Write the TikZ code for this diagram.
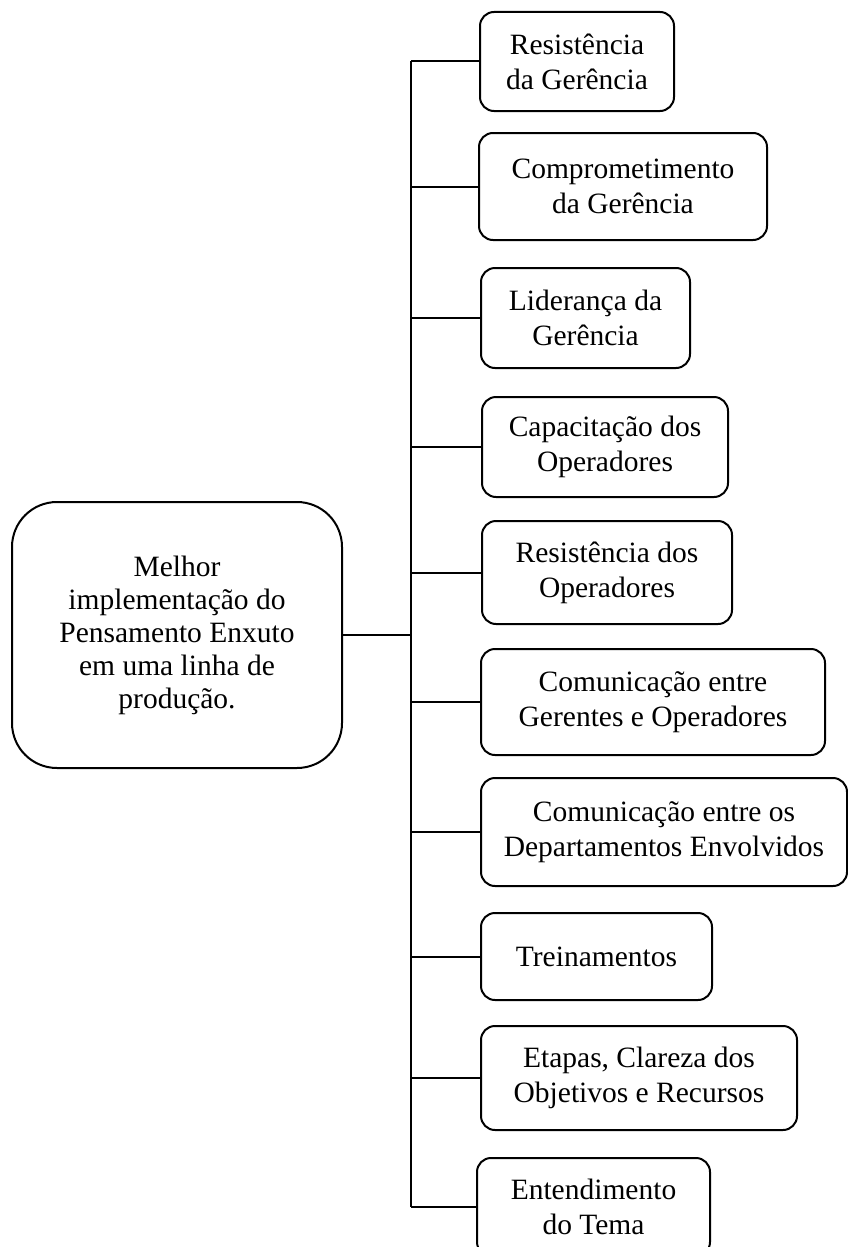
\documentclass[tikz,border=0pt]{standalone}
\usepackage{fontspec}
\setmainfont{Liberation Serif}
\begin{document}
\begin{tikzpicture}[x=1pt,y=-1pt,
  line width=2pt,
  rbox/.style={draw=black, rounded corners=14pt, align=center, inner sep=0pt,
    font=\fontsize{29.5}{35}\selectfont},
  mainbox/.style={draw=black, rounded corners=45pt, align=center, inner sep=0pt,
    font=\fontsize{29.5}{33}\selectfont},
  link/.style={draw=black, line width=2pt}]
\useasboundingbox (0,0) rectangle (848,1247);
\clip (0,0) rectangle (848,1247);
\coordinate (spine) at (411,0);
\node[mainbox, minimum width=330pt, minimum height=266pt] (main) at (177,635)
  {Melhor\\implementação do\\Pensamento Enxuto\\em uma linha de\\produção.};
\node[rbox, minimum width=194pt, minimum height=99pt] (b1) at (577,61.5) {Resistência\\da Gerência};
\node[rbox, minimum width=288pt, minimum height=107pt] (b2) at (623,186.5) {Comprometimento\\da Gerência};
\node[rbox, minimum width=209pt, minimum height=100pt] (b3) at (585.5,318) {Liderança da\\Gerência};
\node[rbox, minimum width=246pt, minimum height=100pt] (b4) at (605,447) {Capacitação dos\\Operadores};
\node[rbox, minimum width=250pt, minimum height=103pt] (b5) at (607,572.5) {Resistência dos\\Operadores};
\node[rbox, minimum width=344pt, minimum height=106pt] (b6) at (653,702) {Comunicação entre\\Gerentes e Operadores};
\node[rbox, minimum width=366pt, minimum height=108pt] (b7) at (664,832) {Comunicação entre os\\Departamentos Envolvidos};
\node[rbox, minimum width=231pt, minimum height=87pt] (b8) at (596.5,956.5) {Treinamentos};
\node[rbox, minimum width=316pt, minimum height=104pt] (b9) at (639,1078) {Etapas, Clareza dos\\Objetivos e Recursos};
\node[rbox, minimum width=233pt, minimum height=98pt] (b10) at (593.5,1207) {Entendimento\\do Tema};
\draw[link] (b1.west -| spine) -- (b10.west -| spine);
\draw[link] (main.east) -- (main.east -| spine);
\foreach \b in {b1,b2,b3,b4,b5,b6,b7,b8,b9,b10}
  \draw[link] (\b.west -| spine) -- (\b.west);
\end{tikzpicture}
\end{document}
